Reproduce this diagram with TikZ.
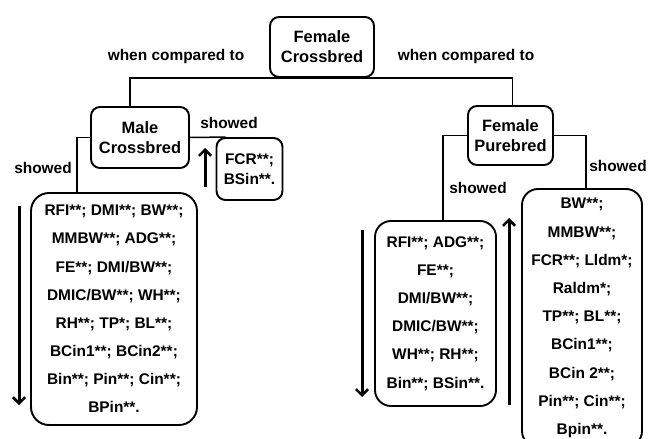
\documentclass[tikz,border=0pt]{standalone}
\usepackage{fontspec}
\setmainfont{Liberation Sans}
\usetikzlibrary{arrows.meta}
\begin{document}
\begin{tikzpicture}[x=1bp,y=-1bp,
  box/.style={draw, line width=1.9bp, rounded corners=9bp, inner sep=0pt, align=center, font=\bfseries\fontsize{16.5}{20}\selectfont},
  listbox/.style={draw, line width=1.9bp, rounded corners=16bp, inner sep=0pt, align=center, font=\bfseries\fontsize{15.5}{28.3}\selectfont},
  conn/.style={line width=1.5bp},
  lbl/.style={font=\bfseries\fontsize{15.5}{18}\selectfont, inner sep=0pt},
  bigarrow/.style={line width=3bp, -{Straight Barb[length=6bp,width=12bp,line width=2.6bp]}}
]
\useasboundingbox (0,0) rectangle (648,439);
\clip (0,0) rectangle (648,439);
\fill[white] (0,0) rectangle (648,439);

\node[box, minimum width=104bp, minimum height=60bp] (FC) at (322,47) {Female\\Crossbred};
\node[box, minimum width=98bp, minimum height=61bp] (MC) at (140,137.5) {Male\\Crossbred};
\node[box, minimum width=66bp, minimum height=62bp, font=\bfseries\fontsize{15.5}{20}\selectfont] (FCR) at (249.5,169) {FCR**;\\BSin**.};
\node[box, minimum width=85bp, minimum height=59bp] (FP) at (510.5,135.5) {Female\\Purebred};

\node[listbox, minimum width=166bp, minimum height=232bp, rounded corners=18bp] (LL) at (114,309)
  {RFI**; DMI**; BW**;\\ MMBW**; ADG**;\\ FE**; DMI/BW**;\\ DMIC/BW**; WH**;\\ RH**; TP*; BL**;\\ BCin1**; BCin2**;\\ Bin**; Pin**; Cin**;\\ BPin**.};
\node[listbox, minimum width=121bp, minimum height=185bp] (ML) at (435.5,313.5)
  {RFI**; ADG**;\\ FE**;\\ DMI/BW**;\\ DMIC/BW**;\\ WH**; RH**;\\ Bin**; BSin**.};
\node[listbox, minimum width=120bp, minimum height=258bp] (RL) at (582,318)
  {BW**;\\ MMBW**;\\ FCR**; Lldm*;\\ Raldm*;\\ TP**; BL**;\\ BCin1**;\\ BCin 2**;\\ Pin**; Cin**;\\ Bpin**.};

\draw[conn] ([xshift=-10bp]MC.north) |- (FC.south) -| ([xshift=2bp]FP.north);
\draw[conn] (MC.east) -- ([xshift=10bp]FCR.north west);
\draw[conn] (MC.west) -| ([xshift=-37bp]LL.north);
\draw[conn] (FP.west) -| ([xshift=7.5bp]ML.north);
\draw[conn] (FP.east) -| ([xshift=4bp]RL.north);

\node[lbl] (wl) at (176,57) {when compared to};
\node[lbl] (wr) at (466,57) {when compared to};
\node[lbl] (s1) at (229,123) {showed};
\node[lbl] (s2) at (43,168) {showed};
\node[lbl] (s3) at (478,188) {showed};
\node[lbl] (s4) at (618,166) {showed};

\coordinate (a1s) at (205,187); \coordinate (a1e) at (205,148);
\coordinate (a2s) at (19,206);  \coordinate (a2e) at (19,405);
\coordinate (a3s) at (362,230); \coordinate (a3e) at (362,397);
\coordinate (a4s) at (509,405); \coordinate (a4e) at (509,218);
\draw[bigarrow] (a1s) -- (a1e);
\draw[bigarrow] (a2s) -- (a2e);
\draw[bigarrow] (a3s) -- (a3e);
\draw[bigarrow] (a4s) -- (a4e);
\end{tikzpicture}
\end{document}
